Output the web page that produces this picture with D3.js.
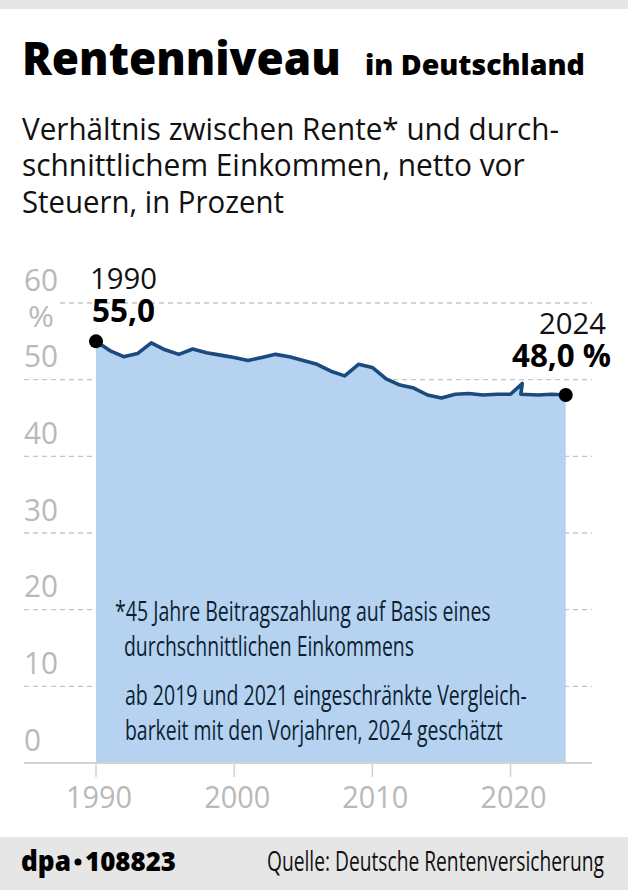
<!DOCTYPE html>
<html>
<head>
<meta charset="utf-8">
<script src="https://cdn.jsdelivr.net/npm/d3@7"></script>
<style>
    html, body { margin: 0; padding: 0; background: #fff; }
    svg { display: block; }
    text { font-family: "Open Sans", sans-serif; }
</style>
</head>
<body>
<script>
// Values; 2021 appears twice because of the break in the series
const years = [1990, 1991, 1992, 1993, 1994, 1995, 1996, 1997, 1998, 1999, 2000, 2001, 2002,
    2003, 2004, 2005, 2006, 2007, 2008, 2009, 2010, 2011, 2012, 2013, 2014, 2015, 2016, 2017,
    2018, 2019, 2020, 2020.85, 2020.75, 2022, 2023, 2024];
const pension = [55.0, 53.8, 53.0, 53.4, 54.8, 53.9, 53.3, 54.0, 53.5, 53.2, 52.9, 52.5, 52.9,
    53.3, 53.0, 52.5, 52.0, 51.1, 50.5, 52.0, 51.6, 50.1, 49.3, 48.9, 48.0, 47.6, 48.1, 48.2,
    48.0, 48.1, 48.1, 49.5, 48.1, 48.0, 48.1, 48.0];
const yTicks = [0, 10, 20, 30, 40, 50, 60];
const xTicks = [1990, 2000, 2010, 2020];

const width = 628;
const height = 890;
const svg = d3.select("body").append("svg")
    .attr("width", width)
    .attr("height", height)
    .attr("viewBox", `0 0 ${width} ${height}`);

const x = d3.scaleLinear().domain([1990, 2020]).range([96, 510.5]);
const y = d3.scaleLinear().domain([0, 60]).range([763, 303]);

const data = years.map((d, i) => ({ year: d, value: pension[i] }));

// Grey bands top and bottom
svg.append("rect").attr("width", width).attr("height", 9).attr("fill", "#e6e6e6");
svg.append("rect").attr("y", 837).attr("width", width).attr("height", 53).attr("fill", "#e6e6e6");

function label(txt, px, py, size, opts = {}) {
    const anchor = opts.anchor || "start";
    const t = svg.append("text")
        .attr("font-size", size)
        .attr("font-weight", opts.weight || 400)
        .attr("fill", opts.fill || "#111")
        .attr("text-anchor", anchor)
        .text(txt);
    // The original type is condensed, so squeeze to the measured width
    const sx = opts.len ? opts.len / t.node().getComputedTextLength() : 1;
    t.attr("transform", `translate(${px},${py}) scale(${sx},1)`);
    return t;
}

// Heading
label("Rentenniveau", 22, 75, 46, { weight: 800, fill: "#000", len: 319 });
label("in Deutschland", 365, 75, 29, { weight: 800, fill: "#000", len: 220 });
label("Verhältnis zwischen Rente* und durch-", 22, 140, 31, { len: 537 });
label("schnittlichem Einkommen, netto vor", 22, 176, 31, { len: 503 });
label("Steuern, in Prozent", 22, 213, 31, { len: 262 });

// Gridlines
svg.append("g")
    .selectAll("line")
    .data(yTicks.filter(d => d > 0))
    .join("line")
    .attr("x1", d => d === 60 ? 60 : 24)
    .attr("x2", 592)
    .attr("y1", d => y(d))
    .attr("y2", d => y(d))
    .attr("stroke", "#c6c6c6")
    .attr("stroke-width", 1.4)
    .attr("stroke-dasharray", "5 4");

// Area and line
const area = d3.area()
    .x(d => x(d.year))
    .y0(y(0))
    .y1(d => y(d.value));
const line = d3.line()
    .x(d => x(d.year))
    .y(d => y(d.value));

svg.append("path").datum(data).attr("d", area).attr("fill", "#b5d3f0");
svg.append("path").datum(data)
    .attr("d", line)
    .attr("fill", "none")
    .attr("stroke", "#1a4a80")
    .attr("stroke-width", 3.6)
    .attr("stroke-linejoin", "round");

// End points
svg.append("g")
    .selectAll("circle")
    .data([data[0], data[data.length - 1]])
    .join("circle")
    .attr("cx", d => x(d.year))
    .attr("cy", d => y(d.value))
    .attr("r", 7)
    .attr("fill", "#000");

// Axes
svg.append("line")
    .attr("x1", 24).attr("x2", 592)
    .attr("y1", y(0)).attr("y2", y(0))
    .attr("stroke", "#d2d2d2").attr("stroke-width", 2);

svg.append("g")
    .selectAll("line")
    .data(xTicks)
    .join("line")
    .attr("x1", d => x(d)).attr("x2", d => x(d))
    .attr("y1", y(0)).attr("y2", y(0) + 14)
    .attr("stroke", "#d2d2d2").attr("stroke-width", 1.5);

xTicks.forEach(d => label(d, x(d) - 30, 808, 31, { fill: "#b9b9b9", len: 66 }));
yTicks.forEach(d => label(d, 24, y(d) - 12.5, 31, { fill: "#b9b9b9", len: d === 0 ? 17 : 34 }));
label("%", 28, 327, 29, { fill: "#b9b9b9", len: 26 });

// Point labels
label("1990", 90, 289, 30, { fill: "#111", len: 67 });
label("55,0", 92, 322, 32, { weight: 700, fill: "#000", len: 63 });
label("2024", 606, 334, 30, { anchor: "end", len: 67 });
label("48,0 %", 611, 367, 32, { weight: 700, fill: "#000", anchor: "end", len: 99 });

// Footnote
label("*45 Jahre Beitragszahlung auf Basis eines", 115, 621, 27, { fill: "#0e1f33", len: 376 });
label("durchschnittlichen Einkommens", 124, 656, 27, { fill: "#0e1f33", len: 290 });
label("ab 2019 und 2021 eingeschränkte Vergleich-", 125, 705, 27, { fill: "#0e1f33", len: 402 });
label("barkeit mit den Vorjahren, 2024 geschätzt", 125, 740, 27, { fill: "#0e1f33", len: 378 });

// Footer
label("dpa", 21, 871, 28, { weight: 800, fill: "#000", len: 50 });
svg.append("circle").attr("cx", 78).attr("cy", 862).attr("r", 3.5).attr("fill", "#000");
label("108823", 85, 871, 27, { weight: 800, fill: "#000", len: 91 });
label("Quelle: Deutsche Rentenversicherung", 267, 871, 27, { fill: "#111", len: 337 });
</script>
</body>
</html>
